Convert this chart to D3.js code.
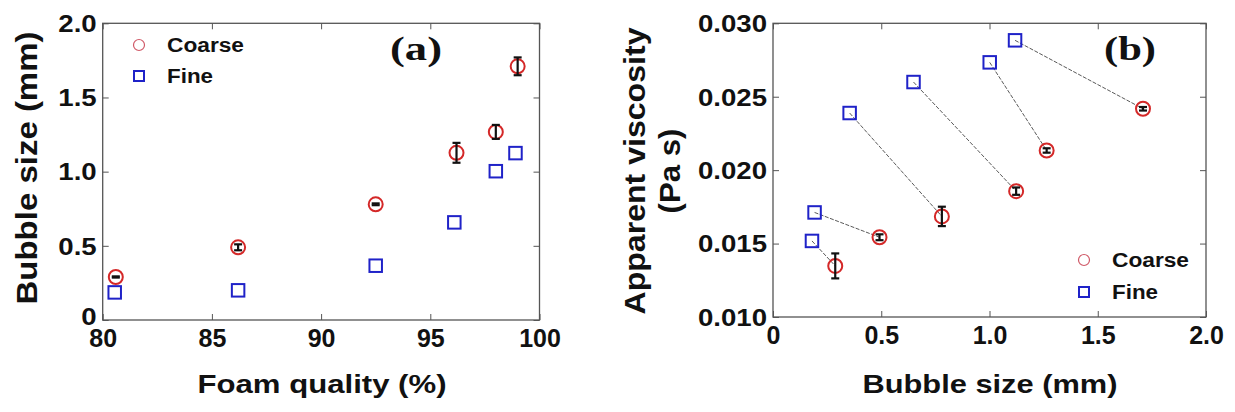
<!DOCTYPE html>
<html>
<head>
<meta charset="utf-8">
<script src="https://cdn.jsdelivr.net/npm/d3@7"></script>
<style>
  html, body { margin: 0; padding: 0; background: #fff; }
  svg { display: block; }
  text { font-family: "Liberation Sans", Arial, sans-serif; font-weight: bold; fill: #111; }
</style>
</head>
<body>
<svg id="chart" width="1235" height="412"></svg>
<script>
// ---------- data ----------
// Panel (a): bubble size vs foam quality
const foamQualityCoarse = [80.6, 86.2, 92.5, 96.2, 98.0, 99.0];
const bubbleCoarse      = [0.29, 0.49, 0.78, 1.127, 1.268, 1.71];
const bubbleCoarseErr   = [0.004, 0.02, 0.006, 0.067, 0.047, 0.06];
const foamQualityFine   = [80.55, 86.2, 92.5, 96.1, 98.0, 98.9];
const bubbleFine        = [0.186, 0.20, 0.366, 0.658, 1.003, 1.125];

// Panel (b): apparent viscosity vs bubble size (pairs: fine[i] -> coarse[i])
const sizeCoarseB   = [0.2875, 0.492, 0.78, 1.123, 1.264, 1.709];
const viscCoarse    = [0.01348, 0.01543, 0.01685, 0.01857, 0.02134, 0.02418];
const viscCoarseErr = [0.00085, 0.0002, 0.00066, 0.00025, 0.00015, 0.00012];
const sizeFineB     = [0.18, 0.192, 0.354, 0.649, 1.001, 1.118];
const viscFine      = [0.01518, 0.01712, 0.02389, 0.0260, 0.02734, 0.02884];

// tick labels
const xTicksA = [80, 85, 90, 95, 100];
const yTicksA = [0, 0.5, 1.0, 1.5, 2.0];
const yTickLabelsA = ["0", "0.5", "1.0", "1.5", "2.0"];
const xTicksB = [0, 0.5, 1.0, 1.5, 2.0];
const xTickLabelsB = ["0", "0.5", "1.0", "1.5", "2.0"];
const yTicksB = [0.010, 0.015, 0.020, 0.025, 0.030];
const yTickLabelsB = ["0.010", "0.015", "0.020", "0.025", "0.030"];

const legendLabels = ["Coarse", "Fine"];

// ---------- styles ----------
const RED = "#d42828", BLUE = "#1f22c8", FRAME = "#555";
const svg = d3.select("#chart");

function panel(opt) {
  const g = svg.append("g");
  const x = d3.scaleLinear().domain(opt.xDomain).range([opt.left, opt.right]);
  const y = d3.scaleLinear().domain(opt.yDomain).range([opt.bottom, opt.top]);

  // frame
  g.append("rect").attr("x", opt.left).attr("y", opt.top)
    .attr("width", opt.right - opt.left).attr("height", opt.bottom - opt.top)
    .attr("fill", "none").attr("stroke", FRAME).attr("stroke-width", 1.3);

  // axes with inner ticks
  const ax = g.append("g").attr("transform", `translate(0,${opt.bottom})`)
    .call(d3.axisBottom(x).tickValues(opt.xTicks).tickFormat((d, i) => opt.xLabels[i])
      .tickSizeInner(-6).tickSizeOuter(0).tickPadding(9));
  ax.select(".domain").remove();
  ax.selectAll("line").attr("stroke", FRAME);
  ax.selectAll("text").attr("font-size", 25).attr("dy", "0.72em").attr("y", 9);

  const ay = g.append("g").attr("transform", `translate(${opt.left},0)`)
    .call(d3.axisLeft(y).tickValues(opt.yTicks).tickFormat((d, i) => opt.yLabels[i])
      .tickSizeInner(-6).tickSizeOuter(0).tickPadding(5));
  ay.select(".domain").remove();
  ay.selectAll("line").attr("stroke", FRAME);
  ay.selectAll("text").attr("font-size", 23).attr("transform", "scale(1.2,1)")
    .attr("dy", (d, i) => (i === 0 ? opt.yLabelDy0 : "0.36em"));

  const at = g.append("g").attr("transform", `translate(0,${opt.top})`)
    .call(d3.axisTop(x).tickValues(opt.xTicks).tickFormat("").tickSizeInner(-6).tickSizeOuter(0));
  at.select(".domain").remove();
  at.selectAll("line").attr("stroke", FRAME);
  const ar = g.append("g").attr("transform", `translate(${opt.right},0)`)
    .call(d3.axisRight(y).tickValues(opt.yTicks).tickFormat("").tickSizeInner(-6).tickSizeOuter(0));
  ar.select(".domain").remove();
  ar.selectAll("line").attr("stroke", FRAME);

  return { g, x, y };
}

function circles(g, xs, ys, x, y) {
  g.selectAll(null).data(xs).enter().append("circle")
    .attr("cx", (d) => x(d)).attr("cy", (d, i) => y(ys[i])).attr("r", 7)
    .attr("fill", "none").attr("stroke", RED).attr("stroke-width", 2);
}
function squares(g, xs, ys, x, y) {
  const s = 12.5;
  g.selectAll(null).data(xs).enter().append("rect")
    .attr("x", (d) => x(d) - s / 2).attr("y", (d, i) => y(ys[i]) - s / 2)
    .attr("width", s).attr("height", s)
    .attr("fill", "none").attr("stroke", BLUE).attr("stroke-width", 2);
}
function errorbars(g, xs, ys, es, x, y) {
  const eg = g.append("g").attr("stroke", "#111").attr("stroke-width", 2.2);
  xs.forEach((xv, i) => {
    const cx = x(xv), y1 = y(ys[i] - es[i]), y2 = y(ys[i] + es[i]);
    eg.append("line").attr("x1", cx).attr("x2", cx).attr("y1", y1).attr("y2", y2);
    eg.append("line").attr("x1", cx - 4).attr("x2", cx + 4).attr("y1", y1).attr("y2", y1);
    eg.append("line").attr("x1", cx - 4).attr("x2", cx + 4).attr("y1", y2).attr("y2", y2);
  });
}
function legend(g, lx, ly, gap) {
  g.append("circle").attr("cx", lx).attr("cy", ly).attr("r", 5.5)
    .attr("fill", "none").attr("stroke", "#d05a68").attr("stroke-width", 1.2);
  g.append("rect").attr("x", lx - 5).attr("y", ly + gap - 5).attr("width", 10).attr("height", 10)
    .attr("fill", "none").attr("stroke", BLUE).attr("stroke-width", 2);
  legendLabels.forEach((t, i) => {
    g.append("text").attr("x", lx + 28).attr("y", ly + i * gap).attr("dy", "0.36em")
      .attr("font-size", 20).attr("textLength", t === "Coarse" ? 77 : 46)
      .attr("lengthAdjust", "spacingAndGlyphs").text(t);
  });
}

// ---------- panel (a) ----------
const A = panel({
  left: 102.7, right: 539.5, top: 23.3, bottom: 320,
  xDomain: [80, 100], yDomain: [0, 2],
  xTicks: xTicksA, xLabels: xTicksA.map(String),
  yTicks: yTicksA, yLabels: yTickLabelsA, yLabelDy0: "0.2em"
});
circles(A.g, foamQualityCoarse, bubbleCoarse, A.x, A.y);
squares(A.g, foamQualityFine, bubbleFine, A.x, A.y);
errorbars(A.g, foamQualityCoarse, bubbleCoarse, bubbleCoarseErr, A.x, A.y);
legend(A.g, 139, 45, 31);
A.g.append("text").attr("x", 416).attr("y", 60).attr("text-anchor", "middle")
  .style("font-family", "'Liberation Serif', 'Times New Roman', serif")
  .attr("font-size", 34).attr("textLength", 52).attr("lengthAdjust", "spacingAndGlyphs").text("(a)");
A.g.append("text").attr("x", 322).attr("y", 393).attr("text-anchor", "middle")
  .attr("font-size", 26).attr("textLength", 249).attr("lengthAdjust", "spacingAndGlyphs")
  .text("Foam quality (%)");
A.g.append("text").attr("transform", "translate(37,168) rotate(-90)").attr("text-anchor", "middle")
  .attr("font-size", 30).attr("textLength", 273).attr("lengthAdjust", "spacingAndGlyphs")
  .text("Bubble size (mm)");

// ---------- panel (b) ----------
const B = panel({
  left: 773, right: 1206, top: 23.3, bottom: 317,
  xDomain: [0, 2], yDomain: [0.010, 0.030],
  xTicks: xTicksB, xLabels: xTickLabelsB,
  yTicks: yTicksB, yLabels: yTickLabelsB, yLabelDy0: "0.36em"
});
// connecting lines fine -> coarse
B.g.append("g").selectAll("line").data(sizeFineB).enter().append("line")
  .attr("x1", (d) => B.x(d)).attr("y1", (d, i) => B.y(viscFine[i]))
  .attr("x2", (d, i) => B.x(sizeCoarseB[i])).attr("y2", (d, i) => B.y(viscCoarse[i]))
  .attr("stroke", "#5a5a5a").attr("stroke-width", 1).attr("stroke-dasharray", "4,1.5");
circles(B.g, sizeCoarseB, viscCoarse, B.x, B.y);
squares(B.g, sizeFineB, viscFine, B.x, B.y);
errorbars(B.g, sizeCoarseB, viscCoarse, viscCoarseErr, B.x, B.y);
legend(B.g, 1084, 260, 32);
B.g.append("text").attr("x", 1130).attr("y", 60).attr("text-anchor", "middle")
  .style("font-family", "'Liberation Serif', 'Times New Roman', serif")
  .attr("font-size", 34).attr("textLength", 52).attr("lengthAdjust", "spacingAndGlyphs").text("(b)");
B.g.append("text").attr("x", 990).attr("y", 393).attr("text-anchor", "middle")
  .attr("font-size", 26).attr("textLength", 255).attr("lengthAdjust", "spacingAndGlyphs")
  .text("Bubble size (mm)");
B.g.append("text").attr("transform", "translate(645,171) rotate(-90)").attr("text-anchor", "middle")
  .attr("font-size", 29).attr("textLength", 287).attr("lengthAdjust", "spacingAndGlyphs")
  .text("Apparent viscosity");
B.g.append("text").attr("transform", "translate(680,171) rotate(-90)").attr("text-anchor", "middle")
  .attr("font-size", 29).attr("textLength", 85).attr("lengthAdjust", "spacingAndGlyphs")
  .text("(Pa s)");
</script>
</body>
</html>
